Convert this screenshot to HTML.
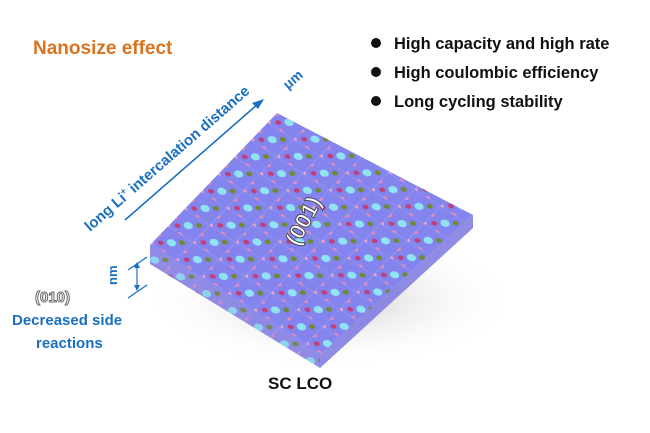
<!DOCTYPE html>
<html><head><meta charset="utf-8"><style>
html,body{margin:0;padding:0;background:#fff;}
svg{display:block;font-family:"Liberation Sans",Arial,sans-serif;}
</style></head><body>
<svg width="650" height="433" viewBox="0 0 650 433" xmlns="http://www.w3.org/2000/svg">
<defs>
<radialGradient id="sh" cx="0.5" cy="0.5" r="0.5"><stop offset="0" stop-color="#999" stop-opacity="0.5"/><stop offset="1" stop-color="#fff" stop-opacity="0"/></radialGradient>
<pattern id="lat" width="20" height="20" patternUnits="userSpaceOnUse" patternTransform="matrix(0.84 -0.86 1.3 0.84 150 243)">
<rect width="20" height="20" fill="none" stroke="#a0a0f0" stroke-width="0.6" opacity="0.6"/>
<circle cx="0" cy="0" r="2.2" fill="#f1a3c4"/>
<circle cx="10" cy="10" r="3" fill="#8ee4f2"/>
<circle cx="5" cy="5" r="1.9" fill="#c0407a"/>
<circle cx="15" cy="15" r="2" fill="#6e8a35"/>
<circle cx="10" cy="0" r="1.7" fill="#ea8ab7"/>
<circle cx="0" cy="10" r="1.7" fill="#ea8ab7"/>
</pattern>
</defs>
<text x="33" y="54" font-size="19" font-weight="bold" fill="#d9731f">Nanosize effect</text>
<g font-size="16.5" font-weight="bold" fill="#111">
<circle cx="376" cy="43" r="5" fill="#111"/><text x="394" y="49">High capacity and high rate</text>
<circle cx="376" cy="72" r="5" fill="#111"/><text x="394" y="78">High coulombic efficiency</text>
<circle cx="376" cy="101" r="5" fill="#111"/><text x="394" y="107">Long cycling stability</text>
</g>
<ellipse cx="330" cy="300" rx="190" ry="70" fill="url(#sh)"/>
<polygon points="150,245 320,355 473,215 473,228 320,368 150,264" fill="#7c78e0" opacity="0.85"/>
<polygon points="277,113 473,215 320,355 150,245" fill="#8484ee"/>
<polygon points="277,113 473,215 320,355 150,245" fill="url(#lat)"/>
<polygon points="150,245 320,355 320,368 150,264" fill="url(#lat)" opacity="0.8"/>
<text x="0" y="0" font-size="22" font-weight="bold" fill="#fff" stroke="#333" stroke-width="0.8" transform="translate(298,247) rotate(-62)">(001)</text>
<line x1="125" y1="220" x2="258" y2="104" stroke="#1a6fc0" stroke-width="1.6"/>
<polygon points="264,99 252,103 258,109" fill="#1a6fc0"/>
<text font-size="15" font-weight="bold" fill="#1a6fc0" transform="translate(90,232) rotate(-41)">long Li<tspan font-size="9" dy="-6">+</tspan><tspan dy="6"> intercalation distance</tspan></text>
<text font-size="14" font-weight="bold" fill="#1a6fc0" transform="translate(288,90) rotate(-41)">μm</text>
<line x1="128" y1="270" x2="147" y2="257" stroke="#1a6fc0" stroke-width="1.3"/>
<line x1="128" y1="298" x2="147" y2="285" stroke="#1a6fc0" stroke-width="1.3"/>
<line x1="137" y1="265" x2="137" y2="288" stroke="#1a6fc0" stroke-width="1.2"/>
<polygon points="137,262 134,268 140,268" fill="#1a6fc0"/>
<polygon points="137,291 134,285 140,285" fill="#1a6fc0"/>
<text font-size="13" font-weight="bold" fill="#1a6fc0" transform="translate(117,285) rotate(-90)">nm</text>
<text x="35" y="302" font-size="15" font-weight="bold" fill="#fff" stroke="#666" stroke-width="1">(010)</text>
<text x="12" y="325" font-size="15" font-weight="bold" fill="#1a6fc0">Decreased side</text>
<text x="36" y="348" font-size="15" font-weight="bold" fill="#1a6fc0">reactions</text>
<text x="268" y="389" font-size="17" font-weight="bold" fill="#111">SC LCO</text>
</svg>
</body></html>
